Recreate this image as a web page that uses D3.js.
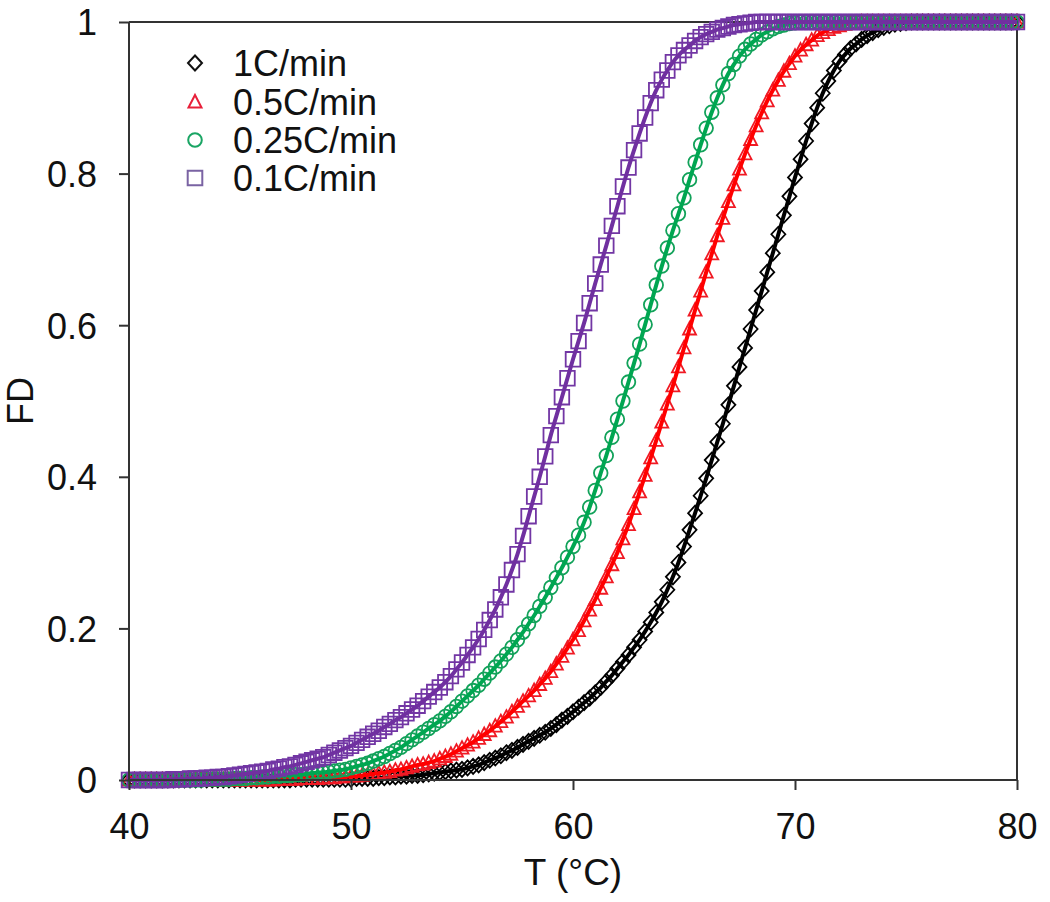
<!DOCTYPE html>
<html>
<head>
<meta charset="utf-8">
<script src="https://cdn.jsdelivr.net/npm/d3@7"></script>
<style>
  html, body { margin: 0; padding: 0; background: #ffffff; }
  svg { display: block; }
  text { font-family: "Liberation Sans", Arial, sans-serif; }
</style>
</head>
<body>
<svg id="chart" width="1050" height="902"></svg>
<script>
// ---------- data (T in °C, FD) ----------
const temps = [
  40,40.25,40.5,40.75,41,41.25,41.5,41.75,42,42.25,42.5,42.75,43,43.25,43.5,43.75,44,44.25,44.5,44.75,
  45,45.25,45.5,45.75,46,46.25,46.5,46.75,47,47.25,47.5,47.75,48,48.25,48.5,48.75,49,49.25,49.5,49.75,
  50,50.25,50.5,50.75,51,51.25,51.5,51.75,52,52.25,52.5,52.75,53,53.25,53.5,53.75,54,54.25,54.5,54.75,
  55,55.25,55.5,55.75,56,56.25,56.5,56.75,57,57.25,57.5,57.75,58,58.25,58.5,58.75,59,59.25,59.5,59.75,
  60,60.25,60.5,60.75,61,61.25,61.5,61.75,62,62.25,62.5,62.75,63,63.25,63.5,63.75,64,64.25,64.5,64.75,
  65,65.25,65.5,65.75,66,66.25,66.5,66.75,67,67.25,67.5,67.75,68,68.25,68.5,68.75,69,69.25,69.5,69.75,
  70,70.25,70.5,70.75,71,71.25,71.5,71.75,72,72.25,72.5,72.75,73,73.25,73.5,73.75,74,74.25,74.5,74.75,
  75,75.25,75.5,75.75,76,76.25,76.5,76.75,77,77.25,77.5,77.75,78,78.25,78.5,78.75,79,79.25,79.5,79.75,
  80];

const fd1C = [
  0,0,0,0,0,0,0,0,0,0,0,0,0,0,0,0,0,0,0,0,
  0,0,0,0,0,0,0,0,0,0,0.001,0.001,0.001,0.001,0.001,0.001,0.001,0.001,0.001,0.001,
  0.001,0.002,0.002,0.002,0.002,0.003,0.003,0.004,0.004,0.005,0.005,0.006,0.006,0.007,0.008,0.009,0.010,0.011,0.012,0.013,
  0.014,0.016,0.018,0.020,0.023,0.026,0.029,0.032,0.036,0.039,0.043,0.047,0.051,0.055,0.059,0.063,0.068,0.073,0.079,0.084,
  0.090,0.096,0.102,0.108,0.115,0.122,0.130,0.138,0.147,0.156,0.165,0.175,0.185,0.196,0.208,0.221,0.235,0.251,0.268,0.287,
  0.308,0.330,0.352,0.375,0.398,0.422,0.446,0.470,0.495,0.520,0.545,0.570,0.595,0.620,0.645,0.670,0.695,0.720,0.745,0.770,
  0.795,0.819,0.843,0.866,0.887,0.906,0.922,0.936,0.948,0.957,0.965,0.971,0.977,0.982,0.986,0.990,0.993,0.995,0.997,0.998,
  0.999,1,1,1,1,1,1,1,1,1,1,1,1,1,1,1,1,1,1,1,
  1];

const fd05C = [
  0,0,0,0,0,0,0,0,0,0,0,0,0,0,0,0,0,0,0,0,
  0,0,0,0,0,0,0,0.001,0.001,0.001,0.001,0.002,0.002,0.002,0.002,0.003,0.003,0.003,0.004,0.004,
  0.005,0.005,0.006,0.007,0.008,0.009,0.010,0.011,0.013,0.014,0.016,0.018,0.020,0.021,0.023,0.025,0.028,0.031,0.034,0.038,
  0.042,0.046,0.050,0.055,0.060,0.065,0.071,0.077,0.083,0.090,0.097,0.104,0.111,0.118,0.126,0.134,0.143,0.153,0.163,0.174,
  0.185,0.197,0.210,0.224,0.238,0.253,0.268,0.284,0.300,0.318,0.337,0.358,0.380,0.402,0.425,0.448,0.472,0.496,0.520,0.545,
  0.570,0.595,0.620,0.645,0.670,0.694,0.718,0.741,0.763,0.785,0.806,0.826,0.845,0.863,0.880,0.896,0.910,0.923,0.935,0.945,
  0.955,0.963,0.970,0.976,0.982,0.986,0.990,0.993,0.995,0.997,0.998,0.999,1,1,1,1,1,1,1,1,
  1,1,1,1,1,1,1,1,1,1,1,1,1,1,1,1,1,1,1,1,
  1];

const fd025C = [
  0,0,0,0,0,0,0,0,0,0,0,0,0,0,0.001,0.001,0.001,0.001,0.001,0.002,
  0.002,0.002,0.003,0.003,0.004,0.004,0.005,0.005,0.006,0.006,0.007,0.007,0.008,0.009,0.010,0.010,0.011,0.012,0.013,0.014,
  0.016,0.018,0.020,0.022,0.025,0.028,0.031,0.035,0.039,0.043,0.048,0.053,0.058,0.063,0.068,0.073,0.078,0.084,0.090,0.097,
  0.104,0.111,0.118,0.125,0.133,0.141,0.149,0.157,0.166,0.175,0.185,0.195,0.206,0.217,0.229,0.241,0.254,0.267,0.280,0.294,
  0.308,0.323,0.340,0.360,0.382,0.405,0.428,0.452,0.476,0.500,0.525,0.550,0.575,0.601,0.627,0.653,0.678,0.702,0.725,0.747,
  0.768,0.792,0.815,0.838,0.860,0.881,0.900,0.917,0.932,0.944,0.955,0.964,0.971,0.977,0.983,0.987,0.991,0.994,0.996,0.998,
  0.999,1,1,1,1,1,1,1,1,1,1,1,1,1,1,1,1,1,1,1,
  1,1,1,1,1,1,1,1,1,1,1,1,1,1,1,1,1,1,1,1,
  1];

const fd01C = [
  0,0,0,0,0,0,0,0,0.001,0.001,0.001,0.002,0.002,0.002,0.003,0.003,0.004,0.004,0.005,0.006,
  0.007,0.008,0.009,0.010,0.011,0.012,0.014,0.015,0.017,0.018,0.020,0.022,0.024,0.026,0.028,0.030,0.033,0.036,0.039,0.042,
  0.045,0.049,0.053,0.057,0.061,0.065,0.070,0.074,0.079,0.083,0.088,0.093,0.098,0.104,0.110,0.116,0.122,0.129,0.137,0.146,
  0.155,0.165,0.175,0.186,0.198,0.211,0.225,0.241,0.258,0.277,0.298,0.322,0.348,0.374,0.400,0.427,0.455,0.480,0.505,0.530,
  0.555,0.579,0.603,0.629,0.655,0.680,0.705,0.731,0.757,0.783,0.808,0.831,0.853,0.874,0.893,0.910,0.924,0.936,0.947,0.956,
  0.963,0.969,0.975,0.980,0.984,0.987,0.990,0.992,0.994,0.996,0.997,0.998,0.999,1,1,1,1,1,1,1,
  1,1,1,1,1,1,1,1,1,1,1,1,1,1,1,1,1,1,1,1,
  1,1,1,1,1,1,1,1,1,1,1,1,1,1,1,1,1,1,1,1,
  1];

const seriesNames = ["1C/min", "0.5C/min", "0.25C/min", "0.1C/min"];
const xTicks = [40, 50, 60, 70, 80];
const yTicks = [0, 0.2, 0.4, 0.6, 0.8, 1];
const yTickLabels = ["0", "0.2", "0.4", "0.6", "0.8", "1"];

// ---------- styles ----------
const styles = [
  { values: fd1C,   shape: "diamond",  line: "#000000", marker: "#000000", legend: "#111111" },
  { values: fd05C,  shape: "triangle", line: "#ff0000", marker: "#f01a24", legend: "#e8203a" },
  { values: fd025C, shape: "circle",   line: "#00a651", marker: "#12a25a", legend: "#1aa564" },
  { values: fd01C,  shape: "square",   line: "#7030a0", marker: "#7236a4", legend: "#7a63a3" }
];

function shapePath(shape, cx, cy) {
  switch (shape) {
    case "diamond":  { const a = 7, b = 7.5; return `M${cx},${cy-b}L${cx+a},${cy}L${cx},${cy+b}L${cx-a},${cy}Z`; }
    case "triangle": { const a = 6.5; return `M${cx},${cy-7}L${cx+a},${cy+5.5}L${cx-a},${cy+5.5}Z`; }
    case "circle":   { const r = 6.8; return `M${cx-r},${cy}A${r},${r} 0 1,0 ${cx+r},${cy}A${r},${r} 0 1,0 ${cx-r},${cy}Z`; }
    case "square":   { const s = 7.3; return `M${cx-s},${cy-s}H${cx+s}V${cy+s}H${cx-s}Z`; }
  }
}

// ---------- layout ----------
const svg = d3.select("#chart");
const x = d3.scaleLinear().domain([40, 80]).range([129, 1017]);
const y = d3.scaleLinear().domain([0, 1]).range([780, 22]);
const axisColor = "#333333";

// frame (top + right)
svg.append("line").attr("x1", x(40)).attr("x2", x(80)).attr("y1", y(1)).attr("y2", y(1))
  .attr("stroke", axisColor).attr("stroke-width", 2);
svg.append("line").attr("x1", x(80)).attr("x2", x(80)).attr("y1", y(1)).attr("y2", y(0))
  .attr("stroke", axisColor).attr("stroke-width", 2);

// series: markers then fitted line
const lineGen = d3.line().x((d, i) => x(temps[i])).y(d => y(d)).curve(d3.curveMonotoneX);
styles.forEach(s => {
  const g = svg.append("g");
  g.selectAll("path.m").data(s.values).join("path")
    .attr("class", "m")
    .attr("d", (d, i) => shapePath(s.shape, x(temps[i]), y(d)))
    .attr("fill", "none").attr("stroke", s.marker).attr("stroke-width", 1.8);
  g.append("path").datum(s.values).attr("d", lineGen)
    .attr("fill", "none").attr("stroke", s.line).attr("stroke-width", 4);
});

// axes
const xAxis = svg.append("g").attr("transform", `translate(0,${y(0)})`)
  .call(d3.axisBottom(x).tickValues(xTicks).tickSize(10).tickFormat(d3.format("d")));
xAxis.selectAll("text").attr("y", 59).attr("dy", null)
  .attr("font-size", 36).attr("fill", "#111");
const yAxis = svg.append("g").attr("transform", `translate(${x(40)},0)`)
  .call(d3.axisLeft(y).tickValues(yTicks).tickSize(10).tickPadding(22)
    .tickFormat((d, i) => yTickLabels[i]));
yAxis.selectAll("text").attr("font-size", 36).attr("fill", "#111").attr("dy", "0.36em");
[xAxis, yAxis].forEach(a => {
  a.select(".domain").attr("stroke", axisColor).attr("stroke-width", 2);
  a.selectAll(".tick line").attr("stroke", axisColor).attr("stroke-width", 2);
  a.attr("font-family", null);
});
xAxis.select(".domain").attr("d", `M${x(40)},0H${x(80)}`);
yAxis.select(".domain").attr("d", `M0,${y(0)}V${y(1)}`);

// axis titles
svg.append("text").attr("x", 573).attr("y", 885).attr("text-anchor", "middle")
  .attr("font-size", 37).attr("fill", "#111").text("T (°C)");
svg.append("text").attr("transform", "translate(33,401) rotate(-90)").attr("text-anchor", "middle")
  .attr("font-size", 36).attr("fill", "#111").text("FD");

// legend
const legendRows = [63, 102, 140, 178];
styles.forEach((s, i) => {
  svg.append("path").attr("d", shapePath(s.shape, 195, legendRows[i]))
    .attr("fill", "none").attr("stroke", s.legend).attr("stroke-width", 2);
  svg.append("text").attr("x", 233).attr("y", legendRows[i] + 12.5)
    .attr("font-size", 36).attr("fill", "#111").text(seriesNames[i]);
});
</script>
</body>
</html>
